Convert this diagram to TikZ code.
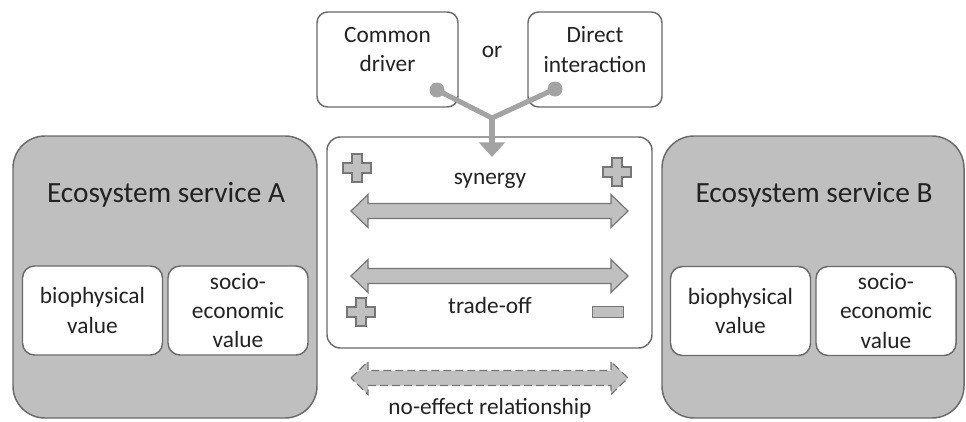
\documentclass[tikz,border=0pt]{standalone}
\usepackage{fontspec}
\setmainfont{Carlito}
\usetikzlibrary{arrows.meta, positioning, calc}

\definecolor{boxgray}{HTML}{BFBFBF}
\definecolor{edgegray}{HTML}{6A6A6A}
\definecolor{arrgray}{HTML}{C0C0C0}
\definecolor{arredge}{HTML}{767676}
\definecolor{linkgray}{HTML}{A3A3A3}
\definecolor{txtgray}{HTML}{222222}

\begin{document}
\begin{tikzpicture}[
  x=0.75pt, y=-0.75pt,
  every node/.style={text=txtgray},
  medfont/.style={font=\fontsize{17.5}{22}\selectfont},
  bigfont/.style={font=\fontsize{22}{26}\selectfont},
  svcbox/.style={rectangle, rounded corners=24pt, draw=edgegray, fill=boxgray,
                 line width=1.1pt, inner sep=0pt},
  valbox/.style={rectangle, rounded corners=9pt, draw=edgegray, fill=white,
                 line width=1.1pt, minimum width=140*0.75pt, minimum height=89*0.75pt,
                 align=center, medfont, inner sep=0pt},
  causebox/.style={rectangle, rounded corners=8pt, draw=edgegray, fill=white,
                   line width=1.1pt, minimum height=95*0.75pt, inner sep=0pt},
  link/.style={draw=linkgray, line width=3.8pt, line join=round},
  sym/.style={draw=arredge, fill=arrgray, line width=0.9pt},
  plussign/.pic={
    \path[sym] (-5,-14) -- (5,-14) -- (5,-5) -- (14,-5) -- (14,5) -- (5,5)
      -- (5,14) -- (-5,14) -- (-5,5) -- (-14,5) -- (-14,-5) -- (-5,-5) -- cycle;
  },
  twoway/.pic={
    \path[sym] (-138.5,0) -- (-121.5,-16.5) -- (-121.5,-7.5) -- (121.5,-7.5)
      -- (121.5,-16.5) -- (138.5,0) -- (121.5,16.5) -- (121.5,7.5)
      -- (-121.5,7.5) -- (-121.5,16.5) -- cycle;
  },
]
\useasboundingbox (0,0) rectangle (966,421);

% the two services
\node (svcA) [svcbox, minimum width=304*0.75pt, minimum height=282*0.75pt] at (165,277) {};
\node (svcB) [svcbox, minimum width=302*0.75pt, minimum height=282*0.75pt] at (813,277) {};
\node (titA) [bigfont] at (166,195) {Ecosystem service A};
\node (titB) [bigfont] at (814,195) {Ecosystem service B};
\node (bioA) [valbox] at (92.5,310.5) {biophysical\\value};
\node (socA) [valbox] at (238,310.5) {socio-\\economic\\value};
\node (bioB) [valbox] at (740.5,311) {biophysical\\value};
\node (socB) [valbox] at (886,311) {socio-\\economic\\value};

% relationship box
\node (rel) [rectangle, rounded corners=10pt, draw=edgegray, fill=white, line width=1.1pt,
             minimum width=325*0.75pt, minimum height=211*0.75pt] at (489.5,242.5) {};

% causes
\node (cdrv) [causebox, minimum width=141*0.75pt] at (387.5,59.5) {};
\node (dint) [causebox, minimum width=134*0.75pt] at (595,59.5) {};
\node [medfont, align=center, yshift=7.5pt] at (cdrv.center) {Common\\driver};
\node [medfont, align=center, yshift=7.5pt] at (dint.center) {Direct\\interaction};
\node (or) [medfont] at (492,52) {or};

\coordinate (dotL) at (437,90);
\coordinate (dotR) at (555,89);
\coordinate (join) at (492,118);
\coordinate (tip)  at (492,157);
\draw [link] (dotL) -- (join) -- (dotR);
\draw [link, -{Triangle[width=19pt, length=11pt]}] (join) -- (tip);
\fill [linkgray] (dotL) circle (7.5) (dotR) circle (7.5);

% synergy
\pic at (357,168) {plussign};
\pic at (617,172) {plussign};
\node (syn) [medfont] at (490,181) {synergy};
\pic at (489.5,211) {twoway};

% trade-off
\pic at (489.5,276) {twoway};
\pic at (361,312) {plussign};
\path [sym] (592.5,306.5) rectangle (623.5,317.5);
\node (trd) [medfont] at (490,305) {trade-off};

% no effect
\pic [dash pattern=on 6pt off 3pt] at (489.5,378) {twoway};
\node (nof) [medfont] at (490,408) {no-effect relationship};
\end{tikzpicture}
\end{document}
